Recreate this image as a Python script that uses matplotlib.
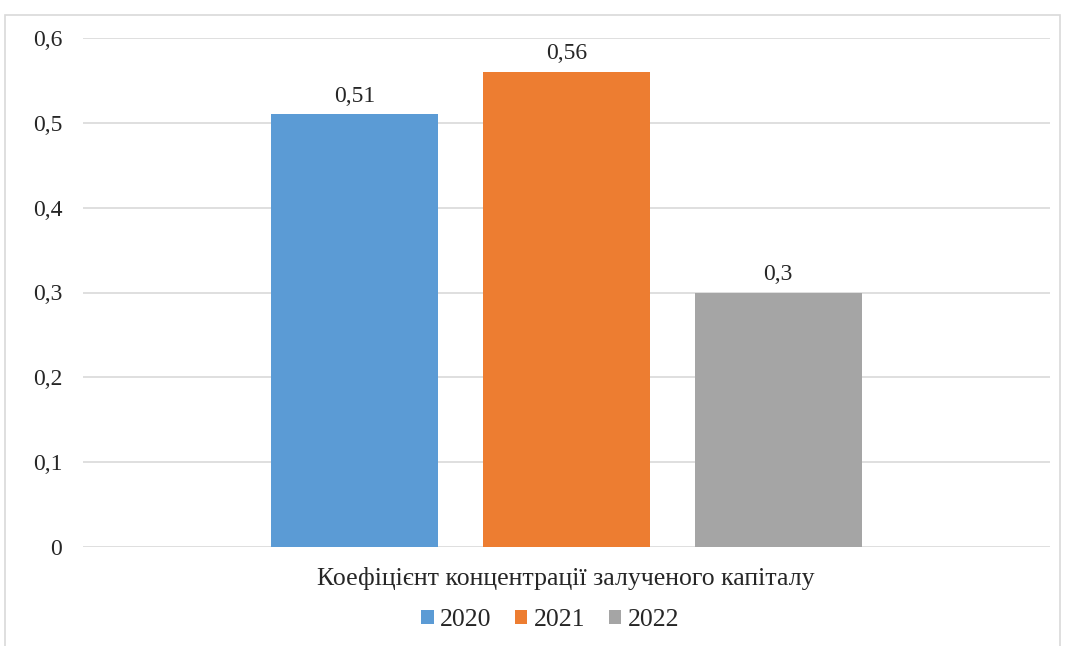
import matplotlib.pyplot as plt
from matplotlib.patches import Rectangle

plt.rcParams['font.family'] = ['Liberation Serif', 'DejaVu Serif']

category = "Коефіцієнт концентрації залученого капіталу"
years = ["2020", "2021", "2022"]
values = [0.51, 0.56, 0.3]
colors = ["#5b9bd5", "#ed7d31", "#a5a5a5"]
value_labels = ["0,51", "0,56", "0,3"]
yticks = [0, 0.1, 0.2, 0.3, 0.4, 0.5, 0.6]
ytick_labels = ["0", "0,1", "0,2", "0,3", "0,4", "0,5", "0,6"]

W, H = 1068, 646
fig = plt.figure(figsize=(W / 100, H / 100), dpi=100)
ax = fig.add_axes([83 / W, 1 - 547 / H, (1050 - 83) / W, (547 - 38) / H])

# outer chart border
fig.patches.append(Rectangle((5 / W, -0.01), (1060 - 5) / W, 1 - 15 / H + 0.01,
                             transform=fig.transFigure, fill=False,
                             edgecolor="#d9d9d9", linewidth=1.2))

step = 0.219
width = 0.173
for i, (yr, v, c, lab) in enumerate(zip(years, values, colors, value_labels)):
    x = (i - 1) * step
    ax.bar(x, v, width=width, color=c, label=yr, zorder=3)
    ax.text(x, v + 0.009, lab, ha="center", va="bottom", fontsize=17, color="#262626")

ax.set_xlim(-0.5, 0.5)
ax.set_ylim(0, 0.6)
ax.set_yticks(yticks)
ax.set_yticklabels(ytick_labels, fontsize=17, color="#262626")
ax.set_xticks([])
ax.tick_params(axis="y", length=0, pad=15)
ax.grid(axis="y", color="#d9d9d9", linewidth=1.2, zorder=0)
for s in ax.spines.values():
    s.set_visible(False)

fig.text(566 / W, 1 - 578 / H, category, ha="center", va="center",
         fontsize=18.5, color="#262626")

leg = fig.legend(loc="center", bbox_to_anchor=(550 / W, 1 - 620 / H), ncol=3,
                 frameon=False, fontsize=18.5, handlelength=0.5, handleheight=0.5,
                 handletextpad=0.25, columnspacing=0.9)
for t in leg.get_texts():
    t.set_color("#262626")

fig.savefig("out.png", dpi=100)
